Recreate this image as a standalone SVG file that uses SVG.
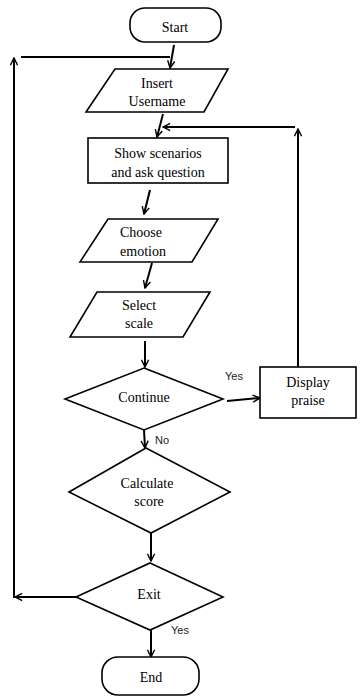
<svg xmlns="http://www.w3.org/2000/svg" width="361" height="698" viewBox="0 0 361 698">
<style>
.s{fill:#fff;stroke:#000;stroke-width:1.6}
.t{font-family:"Liberation Serif",serif;font-size:14px;fill:#000;text-anchor:middle}
.l{font-family:"Liberation Sans",sans-serif;font-size:11px;fill:#222}
.c{fill:none;stroke:#000;stroke-width:2}
</style>
<defs>
<marker id="a" viewBox="0 0 10 10" refX="9" refY="5" markerWidth="9" markerHeight="9" markerUnits="userSpaceOnUse" orient="auto">
<path d="M1,1 L9,5 L1,9" fill="none" stroke="#000" stroke-width="1.6"/>
</marker>
</defs>
<rect width="361" height="698" fill="#fff"/>
<g id="connectors">
<path class="c" d="M174,45 L170,68" marker-end="url(#a)"/>
<path class="c" d="M21,57 L170,57"/>
<path class="c" d="M14,598 L14,58" marker-end="url(#a)"/>
<path class="c" d="M76,597 L15,597" marker-end="url(#a)"/>
<path class="c" d="M163,114 L157,137" marker-end="url(#a)"/>
<path class="c" d="M298,367 L298,129" marker-end="url(#a)"/>
<path class="c" d="M295,127 L163,127" marker-end="url(#a)"/>
<path class="c" d="M150,190 L144,214" marker-end="url(#a)"/>
<path class="c" d="M152,263 L145,288" marker-end="url(#a)"/>
<path class="c" d="M145,341 L145,367" marker-end="url(#a)" stroke-width="2.5"/>
<path class="c" d="M227,401 L260,398" marker-end="url(#a)"/>
<path class="c" d="M144,430 L145,448" marker-end="url(#a)" stroke-width="2.5"/>
<path class="c" d="M151,533 L151,561" marker-end="url(#a)"/>
<path class="c" d="M151,630 L151,657" marker-end="url(#a)"/>
<text class="l" x="225" y="380">Yes</text>
<text class="l" x="155" y="444">No</text>
<text class="l" x="171" y="634">Yes</text>
</g>
<g id="start">
<rect class="s" x="130" y="8" width="91" height="34" rx="15"/>
<text class="t" x="175" y="32">Start</text>
</g>
<g id="insert">
<polygon class="s" points="115,69 228,69 204,112 86,112"/>
<text class="t" x="157" y="88">Insert</text>
<text class="t" x="157" y="106">Username</text>
</g>
<g id="show">
<rect class="s" x="88" y="138" width="140" height="45"/>
<text class="t" x="158" y="158">Show scenarios</text>
<text class="t" x="158" y="177">and ask question</text>
</g>
<g id="choose">
<polygon class="s" points="108,219 218,219 192,262 80,262"/>
<text class="t" x="141" y="237">Choose</text>
<text class="t" x="143" y="256">emotion</text>
</g>
<g id="select">
<polygon class="s" points="97,292 210,292 183,337 70,337"/>
<text class="t" x="139" y="310">Select</text>
<text class="t" x="139" y="328">scale</text>
</g>
<g id="continue">
<polygon class="s" points="144,368 223,399 144,430 65,399"/>
<text class="t" x="144" y="402">Continue</text>
</g>
<g id="display">
<rect class="s" x="260" y="367" width="96" height="51"/>
<text class="t" x="308" y="387">Display</text>
<text class="t" x="308" y="405">praise</text>
</g>
<g id="calculate">
<polygon class="s" points="146,448 230,492 151,533 69,492"/>
<text class="t" x="147" y="488">Calculate</text>
<text class="t" x="149" y="506">score</text>
</g>
<g id="exit">
<polygon class="s" points="150,563 223,597 150,630 76,597"/>
<text class="t" x="149" y="599">Exit</text>
</g>
<g id="end">
<rect class="s" x="102" y="657" width="97" height="38" rx="16"/>
<text class="t" x="151" y="682">End</text>
</g>
</svg>
